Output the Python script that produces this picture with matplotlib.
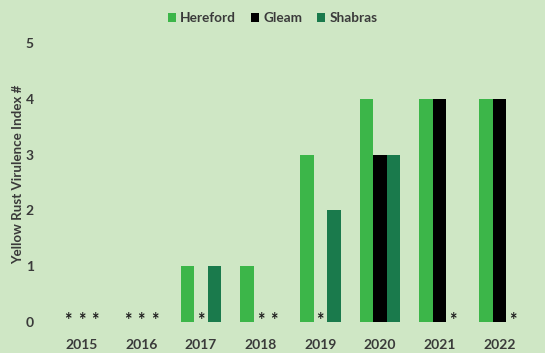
import matplotlib
matplotlib.use("Agg")
import matplotlib.pyplot as plt
import numpy as np

years = ["2015", "2016", "2017", "2018", "2019", "2020", "2021", "2022"]
hereford = [0, 0, 1, 1, 3, 4, 4, 4]
gleam = [0, 0, 0, 0, 0, 3, 4, 4]
shabras = [0, 0, 1, 0, 2, 3, 0, 0]
series_names = ["Hereford", "Gleam", "Shabras"]
colors = ["#3cb649", "#000000", "#1a7a4c"]
bg = "#cfe7c5"
txt = "#3a3a3a"

plt.rcParams['font.family'] = ['Lato', 'DejaVu Sans']
fig = plt.figure(figsize=(5.45, 3.53), dpi=100, facecolor=bg)
ax = fig.add_axes([0.095, 0.0878, 0.876, 0.838], facecolor=bg)

x = np.arange(len(years))
w = 0.226
for i, (vals, name, c) in enumerate(zip([hereford, gleam, shabras], series_names, colors)):
    pos = x + (i - 1) * w
    ax.bar(pos, vals, width=w, color=c, label=name)
    for p, v in zip(pos, vals):
        if v == 0:
            ax.text(p, 0.02, "*", ha="center", va="center", fontsize=13,
                    fontweight="bold", color="#1e1e1e", clip_on=False)

ax.set_xlim(-0.5, 7.5)
ax.set_ylim(0, 5.3)
ax.set_yticks(range(6))
ax.set_xticks(x)
ax.set_xticklabels(years)
for s in ax.spines.values():
    s.set_visible(False)
ax.tick_params(length=0, labelsize=10, colors=txt)
ax.tick_params(axis="y", pad=13)
ax.tick_params(axis="x", pad=12)
for lab in ax.get_xticklabels() + ax.get_yticklabels():
    lab.set_fontweight("bold")
ax.set_ylabel("Yellow Rust Virulence Index #", fontsize=9.6, fontweight="bold", color=txt, labelpad=1)

leg = fig.legend(loc="center", bbox_to_anchor=(0.5, 0.948), ncol=3, frameon=False,
                 handlelength=0.6, handleheight=0.6, handletextpad=0.3, columnspacing=1.1,
                 prop={"weight": "bold", "size": 9.8})
for t in leg.get_texts():
    t.set_color(txt)

fig.savefig("out.png", dpi=100, facecolor=bg)
